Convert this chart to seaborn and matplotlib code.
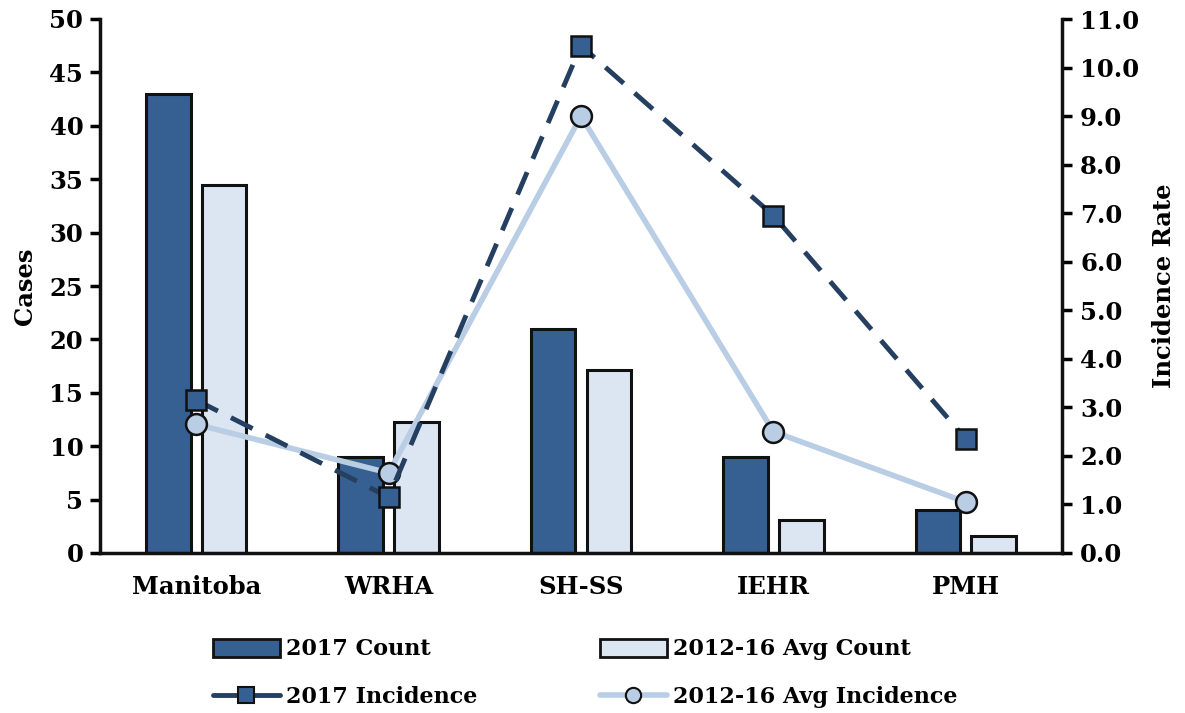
import numpy as np
import pandas as pd
import matplotlib
matplotlib.use("Agg")
import matplotlib.pyplot as plt
import seaborn as sns
from matplotlib.patches import Patch
from matplotlib.lines import Line2D

regions = ["Manitoba", "WRHA", "SH-SS", "IEHR", "PMH"]
count_2017 = [43, 9, 21, 9, 4]
count_avg = [34.5, 12.3, 17.1, 3.1, 1.6]
inc_2017 = [3.15, 1.15, 10.45, 6.95, 2.35]
inc_avg = [2.65, 1.65, 9.0, 2.5, 1.05]

dark = "#376092"
light = "#dce6f2"
dark_line = "#243f60"
light_line = "#b9cde5"
ink = "#000000"

sns.set_style("white")
plt.rcParams["font.family"] = ["DejaVu Serif"]
plt.rcParams["font.weight"] = "bold"
plt.rcParams["text.color"] = ink
plt.rcParams["axes.labelcolor"] = ink
plt.rcParams["xtick.color"] = ink
plt.rcParams["ytick.color"] = ink

fs = 17.5

bars = pd.DataFrame({
    "Region": regions * 2,
    "Cases": count_2017 + count_avg,
    "Series": ["2017 Count"] * 5 + ["2012-16 Avg Count"] * 5,
})

fig = plt.figure(figsize=(11.85, 7.13), dpi=100)
ax = fig.add_axes([100 / 1185, 1 - 553 / 713, 962 / 1185, 534 / 713])

sns.barplot(data=bars, x="Region", y="Cases", hue="Series",
            palette=[dark, light], saturation=1, width=0.58, gap=0.2,
            edgecolor="#111111", linewidth=2.2, ax=ax, legend=False)
ax.set_xlim(-0.5, 4.5)
ax.set_ylim(0, 50)
ax.set_yticks(np.arange(0, 51, 5))
ax.set_xlabel("")
ax.set_ylabel("Cases", fontsize=fs, fontweight="bold", labelpad=9)
ax.tick_params(axis="y", labelsize=fs, length=7, width=2.5, direction="out", left=True, pad=5)
ax.tick_params(axis="x", labelsize=fs, length=0, pad=16)
for s in ["left", "bottom"]:
    ax.spines[s].set_linewidth(2.5)
    ax.spines[s].set_color("#111111")
ax.spines["top"].set_visible(False)
ax.spines["right"].set_visible(False)

ax2 = ax.twinx()
xpos = np.arange(len(regions))
lines = pd.DataFrame({"x": xpos, "y17": inc_2017, "yavg": inc_avg})
sns.lineplot(data=lines, x="x", y="yavg", ax=ax2, color=light_line, linewidth=4,
             marker="o", markersize=15, markerfacecolor=light_line,
             markeredgecolor="#111111", markeredgewidth=1.8, legend=False)
sns.lineplot(data=lines, x="x", y="y17", ax=ax2, color=dark_line, linewidth=3.5,
             marker="s", markersize=14, markerfacecolor=dark,
             markeredgecolor="#111111", markeredgewidth=1.8, legend=False)
ax2.lines[-1].set_dashes([5, 3])
ax2.set_ylim(0, 11)
ticks_r = np.arange(0, 11.1, 1)
ax2.set_yticks(ticks_r)
ax2.set_yticklabels([f"{v:.1f}" for v in ticks_r])
ax2.set_xlim(-0.5, 4.5)
ax2.set_ylabel("Incidence Rate", fontsize=fs, fontweight="bold", labelpad=9)
ax2.tick_params(axis="y", labelsize=fs, length=7, width=2.5, direction="out", right=True, pad=6)
ax2.spines["right"].set_linewidth(2.5)
ax2.spines["right"].set_color("#111111")
for s in ["top", "left", "bottom"]:
    ax2.spines[s].set_visible(False)

h_bar17 = Patch(facecolor=dark, edgecolor="#111111", linewidth=2, label="2017 Count")
h_baravg = Patch(facecolor=light, edgecolor="#111111", linewidth=2, label="2012-16 Avg Count")
h_l17 = Line2D([], [], color=dark_line, linewidth=3.5, marker="s", markersize=12,
               markerfacecolor=dark, markeredgecolor="#111111", markeredgewidth=1.5,
               label="2017 Incidence")
h_lavg = Line2D([], [], color=light_line, linewidth=4, marker="o", markersize=11,
                markerfacecolor=light_line, markeredgecolor="#111111", markeredgewidth=1.5,
                label="2012-16 Avg Incidence")
fig.legend(handles=[h_bar17, h_l17, h_baravg, h_lavg], loc="lower left",
           bbox_to_anchor=(193 / 1185, -0.021), ncol=2, frameon=False, fontsize=16,
           handlelength=3.0, handleheight=0.9, columnspacing=5.5, labelspacing=1.15,
           handletextpad=0.3)

fig.savefig("out.png", dpi=100)
